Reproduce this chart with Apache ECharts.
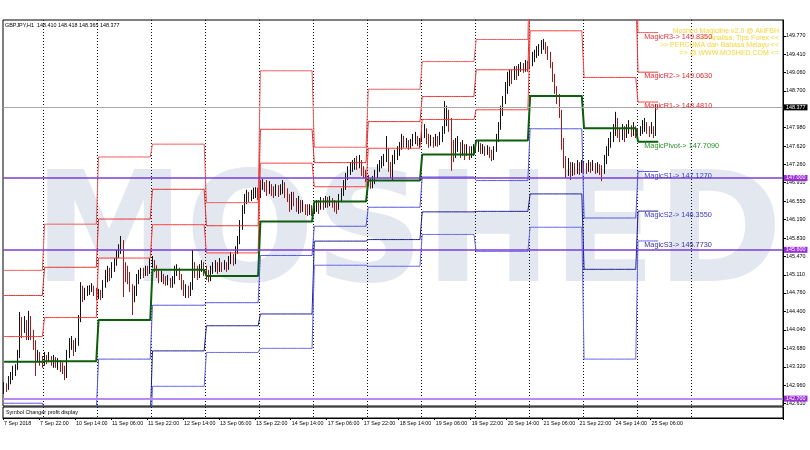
<!DOCTYPE html>
<html><head><meta charset="utf-8">
<script src="https://cdn.jsdelivr.net/npm/echarts@6/dist/echarts.min.js"></script>
<style>html,body{margin:0;padding:0;background:#fff}#c{width:810px;height:450px}</style>
</head><body><div id="c"></div>
<script>
// ---------------- data ----------------
const symbolName = 'GBPJPY,H1';
const tradingDays = ['7 Sep','10 Sep','11 Sep','12 Sep','13 Sep','14 Sep','17 Sep','18 Sep','19 Sep','20 Sep','21 Sep','24 Sep','25 Sep','26 Sep','27 Sep'];
const firstHour = 6;
const totalSlots = 347;
const xTickLabels = ['7 Sep 2018','7 Sep 22:00','10 Sep 14:00','11 Sep 06:00','11 Sep 22:00','12 Sep 14:00','13 Sep 06:00','13 Sep 22:00','14 Sep 14:00','17 Sep 06:00','17 Sep 22:00','18 Sep 14:00','19 Sep 06:00','19 Sep 22:00','20 Sep 14:00','21 Sep 06:00','21 Sep 22:00','24 Sep 14:00','25 Sep 06:00'];
const xTickStep = 16;
const yTickValues = [142.61,142.96,143.32,143.68,144.04,144.40,144.76,145.11,145.47,145.83,146.19,146.55,146.91,147.26,147.62,147.98,148.70,149.06,149.41,149.77];

const firstOpen = 142.87; // hourly FX bars open at the previous close
const barClose = [
142.95,142.91,143.06,143.10,143.22,143.30,143.53,144.23,144.04,144.19,143.96,144.27,144.00,143.76,143.41,143.53,143.45,143.41,
143.49,143.43,143.51,143.41,143.45,143.37,143.41,143.34,143.26,143.14,143.53,143.73,143.78,143.65,143.76,144.23,144.78,144.70,144.74,144.80,144.82,144.86,144.78,144.70,
144.74,144.68,144.91,145.05,145.17,145.09,145.25,145.32,145.48,145.60,145.71,145.29,145.25,145.09,144.86,144.62,144.78,145.01,145.09,145.17,145.13,145.21,145.17,145.32,
145.36,145.25,145.17,145.05,145.09,145.01,144.97,145.01,144.93,144.97,145.17,145.21,145.09,144.93,144.78,144.82,144.74,144.86,145.21,145.17,145.09,145.21,145.29,145.21,
145.13,145.05,145.17,145.25,145.29,145.21,145.32,145.25,145.29,145.25,145.36,145.44,145.36,145.56,145.75,146.03,146.34,146.57,146.65,146.61,146.65,146.69,146.73,146.65,
146.84,146.88,146.80,146.77,146.84,146.77,146.73,146.80,146.73,146.77,146.84,146.73,146.65,146.49,146.61,146.57,146.45,146.49,146.42,146.45,146.38,146.34,146.40,146.36,
146.42,146.49,146.45,146.53,146.47,146.57,146.51,146.55,146.49,146.45,146.42,146.61,146.73,146.84,147.00,147.12,147.19,147.23,147.27,147.23,147.31,147.16,147.08,147.00,
146.92,146.84,146.96,147.04,147.16,147.23,147.31,147.35,147.55,147.23,147.12,147.35,147.43,147.51,147.59,147.74,147.66,147.70,147.62,147.66,147.74,147.78,147.70,147.70,
147.82,147.94,147.78,147.70,147.74,147.66,147.74,147.70,147.78,147.90,148.17,148.25,148.05,147.55,147.51,147.62,147.66,147.55,147.59,147.51,147.55,147.47,147.51,147.55,
147.59,147.62,147.55,147.59,147.51,147.55,147.47,147.43,147.55,147.74,147.97,148.25,148.48,148.72,148.91,148.99,148.95,149.07,149.03,149.11,149.18,149.14,149.22,149.18,
149.26,149.34,149.38,149.46,149.50,149.57,149.61,149.53,149.42,149.22,148.99,148.76,148.60,148.29,147.74,147.31,147.16,147.23,147.12,147.19,147.16,147.23,147.16,147.21,
147.19,147.16,147.23,147.19,147.23,147.16,147.19,147.16,147.12,147.35,147.51,147.66,147.78,147.90,148.05,147.90,147.82,147.94,147.86,147.94,148.01,147.90,147.97,147.90,
147.86,147.94,148.01,148.05,147.94,147.90,147.97,147.86,148.41,148.377];
const barHigh = [
143.02,143.00,143.14,143.22,143.34,143.37,143.65,144.39,144.29,144.31,144.23,144.41,144.31,144.04,143.84,143.65,143.61,143.53,
143.61,143.55,143.61,143.53,143.55,143.51,143.49,143.45,143.41,143.34,143.65,143.88,143.92,143.84,143.88,144.33,144.97,144.90,144.86,144.90,144.91,144.95,144.90,144.86,
144.84,144.82,145.01,145.21,145.29,145.25,145.36,145.44,145.60,145.71,145.87,145.79,145.36,145.29,145.17,144.93,144.90,145.13,145.21,145.25,145.25,145.29,145.29,145.44,
145.48,145.40,145.30,145.21,145.19,145.13,145.09,145.11,145.05,145.09,145.29,145.32,145.25,145.13,145.01,144.93,144.90,144.97,145.60,145.36,145.29,145.32,145.40,145.36,
145.29,145.21,145.29,145.36,145.40,145.36,145.44,145.36,145.40,145.36,145.48,145.56,145.52,145.67,145.87,146.18,146.47,146.69,146.77,146.73,146.77,146.81,146.82,146.81,
146.96,146.98,146.92,146.96,146.94,146.88,146.84,146.88,146.86,146.88,146.96,146.92,146.80,146.69,146.73,146.73,146.61,146.65,146.57,146.57,146.49,146.49,146.49,146.47,
146.53,146.57,146.57,146.63,146.61,146.65,146.63,146.65,146.61,146.57,146.53,146.69,146.80,146.96,147.10,147.23,147.31,147.35,147.39,147.43,147.45,147.35,147.23,147.16,
147.06,147.00,147.04,147.16,147.27,147.35,147.43,147.47,147.82,147.58,147.31,147.45,147.55,147.62,147.70,147.86,147.82,147.78,147.74,147.76,147.86,147.90,147.82,147.78,
148.01,148.05,147.97,147.86,147.84,147.80,147.86,147.82,147.90,148.01,148.50,148.41,148.33,148.17,147.74,147.78,147.82,147.70,147.74,147.66,147.66,147.62,147.62,147.66,
147.70,147.72,147.68,147.66,147.62,147.64,147.61,147.55,147.62,147.86,148.09,148.41,148.60,148.87,149.07,149.11,149.11,149.18,149.18,149.22,149.26,149.24,149.30,149.28,
149.38,149.46,149.50,149.57,149.61,149.69,149.71,149.65,149.57,149.46,149.26,149.03,148.79,148.64,148.33,147.78,147.43,147.39,147.31,147.31,147.29,147.35,147.31,147.35,
147.31,147.29,147.35,147.31,147.35,147.29,147.31,147.27,147.25,147.45,147.62,147.78,147.90,148.05,148.29,148.17,147.97,148.05,148.01,148.05,148.13,148.03,148.09,148.01,
147.97,148.01,148.13,148.17,148.09,148.01,148.09,148.01,148.44,148.418];
const barLow = [
142.79,142.83,142.87,142.98,143.06,143.14,143.26,143.49,143.88,143.98,143.84,143.84,143.84,143.65,143.14,143.41,143.34,143.30,
143.34,143.37,143.41,143.34,143.30,143.30,143.26,143.22,143.18,143.06,143.10,143.49,143.65,143.53,143.61,143.73,144.19,144.58,144.62,144.70,144.72,144.78,144.70,144.62,
144.64,144.62,144.66,144.86,144.97,144.99,145.05,145.17,145.29,145.44,145.52,144.68,144.97,144.93,144.78,144.33,144.58,144.70,144.93,145.03,145.05,145.09,145.09,145.13,
145.25,145.17,145.05,144.95,144.97,144.93,144.90,144.91,144.86,144.86,144.93,145.09,145.01,144.82,144.70,144.66,144.66,144.70,144.82,145.05,145.01,145.05,145.17,145.09,
145.01,144.97,144.99,145.13,145.17,145.13,145.17,145.17,145.21,145.17,145.21,145.32,145.29,145.32,145.52,145.71,145.99,146.30,146.49,146.53,146.55,146.59,146.61,146.57,
146.61,146.77,146.73,146.65,146.69,146.65,146.61,146.65,146.63,146.67,146.69,146.61,146.53,146.34,146.38,146.45,146.34,146.30,146.32,146.34,146.28,146.26,146.28,146.26,
146.30,146.34,146.30,146.38,146.38,146.42,146.42,146.45,146.42,146.34,146.30,146.38,146.53,146.65,146.77,146.96,147.06,147.12,147.16,147.16,147.19,147.04,147.00,146.92,
146.84,146.79,146.80,146.88,147.00,147.12,147.19,147.23,147.31,147.12,147.00,146.96,147.27,147.35,147.43,147.55,147.59,147.59,147.55,147.57,147.62,147.66,147.62,147.59,
147.70,147.78,147.66,147.59,147.62,147.59,147.62,147.61,147.64,147.70,147.86,148.01,147.90,147.14,147.31,147.39,147.51,147.39,147.43,147.35,147.43,147.35,147.39,147.43,
147.51,147.51,147.47,147.47,147.43,147.45,147.39,147.33,147.35,147.51,147.70,147.94,148.21,148.44,148.64,148.79,148.83,148.91,148.91,148.99,149.07,149.05,149.07,149.07,
149.14,149.18,149.26,149.34,149.38,149.42,149.50,149.42,149.30,149.14,148.87,148.64,148.44,148.17,147.55,147.19,147.00,147.04,146.96,147.04,147.06,147.08,147.06,147.10,
147.08,147.08,147.12,147.10,147.14,147.08,147.10,147.06,146.94,147.08,147.27,147.43,147.59,147.70,147.82,147.78,147.70,147.74,147.70,147.78,147.86,147.80,147.82,147.78,
147.78,147.82,147.86,147.90,147.86,147.80,147.86,147.78,147.82,148.365];

// daily pivot levels (one value per trading day)
const levelR3 = [145.20,146.10,147.41,147.66,146.52,149.09,147.60,148.73,149.27,149.70,151.79,151.71,149.835];
const levelR2 = [144.71,145.26,146.20,146.78,146.07,147.95,147.30,148.10,148.59,149.11,150.52,150.71,149.063];
const levelR1 = [143.91,144.28,145.44,146.09,145.54,147.29,146.83,147.58,148.14,148.33,149.87,148.96,148.481];
const levelPP = [143.42,143.43,144.23,145.21,145.09,146.15,146.54,146.95,147.46,147.73,148.60,147.97,147.709];
const levelS1 = [142.61,142.45,143.47,144.52,144.57,145.49,146.06,146.43,147.02,146.95,147.96,146.22,147.127];
const levelS2 = [142.13,141.61,142.26,143.63,144.12,144.35,145.77,145.80,146.34,146.35,146.69,145.22,146.355];
const levelS3 = [141.32,140.63,141.50,142.94,143.60,143.68,145.30,145.28,145.90,145.57,146.04,143.47,145.773];

const hLines = [147.000, 145.600, 142.700];
const infoLines = ['Moshed Magicline v2.0 @ AkiFBH','>> Analisa, Tips Forex <<','>> PERCUMA dan Bahasa Melayu <<','=> @ WWW.MOSHED.COM <='];

// ---------------- build ----------------
const categories = [], dayOfSlot = [];
tradingDays.forEach((d, k) => {
  for (let h = (k === 0 ? firstHour : 0); h < 24; h++) {
    if (categories.length < totalSlots) { categories.push(d + ' ' + String(h).padStart(2, '0') + ':00'); dayOfSlot.push(k); }
  }
});
const barOpen = barClose.map((c, i) => i === 0 ? firstOpen : barClose[i - 1]);
const candles = barClose.map((c, i) => [barOpen[i], c, barLow[i], barHigh[i]]);
const isSeparator = i => i > 0 && dayOfSlot[i] !== dayOfSlot[i - 1] && dayOfSlot[i] <= 13;
const isTick = i => i % xTickStep === 0 && (i / xTickStep) < xTickLabels.length;
const FONT = 'Liberation Sans';
const last = barClose.length - 1;

function levelSeries(name, lv, color, width, labelColor) {
  return {
    name, type: 'line', xAxisIndex: 0, yAxisIndex: 0, z: 4,
    data: barClose.map((_, i) => lv[dayOfSlot[i]]),
    symbol: 'none', silent: true, animation: false,
    lineStyle: { color, width },
    markPoint: {
      symbol: 'circle', symbolSize: 1, silent: true, itemStyle: { color: 'rgba(0,0,0,0)' },
      data: [{ coord: [285, lv[12]] }],
      label: { show: true, position: [0, 1], align: 'left', verticalAlign: 'top',
        formatter: () => name + '-> ' + lv[12].toFixed(4),
        color: labelColor, fontSize: 7.3, fontFamily: FONT }
    }
  };
}

const tag = (v, bg, lineColor, w) => ({
  yAxis: v,
  lineStyle: { color: lineColor, width: w, type: 'solid' },
  label: { show: true, position: 'end', distance: 1, formatter: () => v.toFixed(3),
    color: '#fff', backgroundColor: bg, padding: [1, 2, 0, 2], fontSize: 5.4, fontFamily: FONT }
});

const option = {
  animation: false,
  backgroundColor: '#fff',
  grid: [
    { left: 3, right: 27, top: 20, bottom: 44, show: true, borderColor: '#000', borderWidth: 1 },
    { left: 3, right: 27, top: 407, bottom: 32, show: true, borderColor: '#000', borderWidth: 1 }
  ],
  xAxis: [
    { type: 'category', gridIndex: 0, data: categories, boundaryGap: true,
      axisLine: { show: false }, axisTick: { show: false }, axisLabel: { show: false },
      splitLine: { show: true, interval: (i) => isSeparator(i), lineStyle: { color: '#111', width: 1, type: [1, 2] } } },
    { type: 'category', gridIndex: 1, data: categories, boundaryGap: true,
      axisLine: { show: true, lineStyle: { color: '#000' } },
      axisTick: { show: true, interval: (i) => isTick(i), length: 2, lineStyle: { color: '#000' } },
      axisLabel: { show: true, interval: (i) => isTick(i), formatter: (v, i) => xTickLabels[i / xTickStep],
        align: 'left', margin: 3, fontSize: 5.3, color: '#000', fontFamily: FONT },
      splitLine: { show: true, interval: (i) => isSeparator(i), lineStyle: { color: '#111', width: 1, type: [1, 2] } } }
  ],
  yAxis: [
    { type: 'value', gridIndex: 0, position: 'right', min: 142.556, max: 150.08, scale: true,
      axisLine: { show: true, lineStyle: { color: '#000' } },
      axisTick: { show: true, customValues: yTickValues, length: 3, lineStyle: { color: '#000' } },
      axisLabel: { show: true, customValues: yTickValues, formatter: v => Number(v).toFixed(3), margin: 3,
        fontSize: 5.4, color: '#000', fontFamily: FONT },
      splitLine: { show: false } },
    { type: 'value', gridIndex: 1, position: 'right', min: 0, max: 1,
      axisLine: { show: true, lineStyle: { color: '#000' } }, axisTick: { show: false },
      axisLabel: { show: false }, splitLine: { show: false } }
  ],
  graphic: [
    { type: 'text', x: 408, y: 241, scaleX: 0.99, silent: true, z: -10,
      style: { text: 'MOSHED', font: 'bold 154px "DejaVu Sans"', fill: '#e3e7ef', textAlign: 'center', textVerticalAlign: 'middle' } },
    { type: 'text', left: 5, top: 23, silent: true, z: 10,
      style: { text: symbolName + '  ' + [barOpen[last], barHigh[last], barLow[last], barClose[last]].map(v => v.toFixed(3)).join(' '),
        font: '5.4px "Liberation Sans"', fill: '#000' } },
    { type: 'text', left: 6, top: 410, silent: true, z: 10,
      style: { text: 'Symbol Changer profit display', font: '5.4px "Liberation Sans"', fill: '#000' } }
  ].concat(infoLines.map((t, k) => ({
    type: 'text', x: 779, y: 31 + k * 7.2, silent: true, z: 1,
    style: { text: t, font: '7px "Liberation Sans"', fill: '#f2d53a', textAlign: 'right', textVerticalAlign: 'middle' }
  }))),
  series: [
    { name: 'price', type: 'candlestick', xAxisIndex: 0, yAxisIndex: 0, z: 3, data: candles, barWidth: 1.2,
      silent: true,
      itemStyle: { color: '#111', color0: '#9a1c1c', borderColor: '#111', borderColor0: '#9a1c1c', borderWidth: 1 },
      markLine: { symbol: 'none', silent: true, precision: 3, animation: false,
        data: [
          tag(barClose[last], '#000', '#a8a8a8', 1),
          tag(hLines[0], '#9b30d9', '#7b3fd4', 1.5),
          tag(hLines[1], '#9b30d9', '#7b3fd4', 1.5),
          tag(hLines[2], '#9b30d9', '#b98af2', 2)
        ] } },
    levelSeries('MagicR3', levelR3, '#f25a5a', 1, '#e8343c'),
    levelSeries('MagicR2', levelR2, '#e63333', 1, '#e02a30'),
    levelSeries('MagicR1', levelR1, '#ff3b3b', 1, '#e02a30'),
    levelSeries('MagicPivot', levelPP, '#0c5e0c', 2, '#2a8f2a'),
    levelSeries('MagicS1', levelS1, '#5454e6', 1, '#3a3ac8'),
    levelSeries('MagicS2', levelS2, '#1e1e90', 1, '#3a3ac8'),
    levelSeries('MagicS3', levelS3, '#6464f0', 1, '#34349c')
  ]
};
const chart = echarts.init(document.getElementById('c'));
chart.setOption(option);
</script>
</body></html>
